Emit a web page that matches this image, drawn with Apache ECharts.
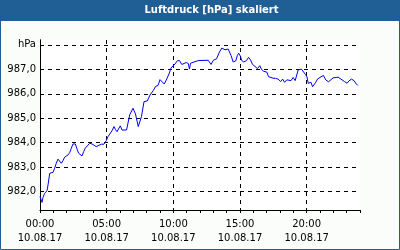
<!DOCTYPE html>
<html><head><meta charset="utf-8">
<script src="https://cdn.jsdelivr.net/npm/echarts@6/dist/echarts.min.js"></script>
<style>html,body{margin:0;padding:0;background:#fafdfa;}#c{width:400px;height:250px;}</style>
</head><body><div id="c"></div>
<script>
var title = 'Luftdruck [hPa] skaliert';
var dateLabel = '10.08.17';
var yTicks = [982, 983, 984, 985, 986, 987, 988];
var xLabelHours = [0, 5, 10, 15, 20];
var hours = [0,0.15,0.225,0.35,0.525,0.6,0.73,0.85,0.975,1.10,1.22,1.35,1.48,1.60,1.725,1.85,2.10,2.23,2.35,2.475,2.65,2.80,2.90,3.15,3.28,3.40,3.55,3.73,3.90,4.05,4.22,4.35,4.60,4.80,4.97,5.10,5.23,5.40,5.55,5.65,5.775,6.02,6.15,6.49,6.73,6.975,7.16,7.37,7.61,7.80,8.05,8.25,8.51,8.66,8.85,9.00,9.15,9.32,9.51,9.70,9.825,9.95,10.125,10.30,10.46,10.635,10.76,10.965,11.12,11.21,11.29,11.40,11.87,12.62,12.825,13.00,13.24,13.46,13.635,13.75,13.875,14.115,14.22,14.325,14.49,14.685,14.80,14.90,15.04,15.13,15.285,15.49,15.64,15.79,15.94,16.125,16.31,16.485,16.61,16.78,17.01,17.14,17.27,17.475,17.66,17.87,18.05,18.20,18.34,18.51,18.65,18.825,18.99,19.14,19.25,19.365,19.61,19.76,19.91,20.025,20.115,20.235,20.325,20.44,20.55,20.66,20.81,21.00,21.15,21.26,21.43,21.64,21.79,21.975,22.125,22.365,22.575,22.84,23.025,23.175,23.36,23.55,23.715,23.835];
var pressure = [981.80,981.56,981.77,981.93,982.04,982.27,982.75,982.82,982.79,982.96,983.16,983.33,983.30,983.16,983.27,983.41,983.50,983.60,983.78,983.95,983.95,983.71,983.57,983.46,983.64,983.78,983.84,983.98,983.95,983.91,983.84,983.91,983.94,983.94,984.09,984.25,984.32,984.49,984.66,984.55,984.45,984.69,984.52,984.52,985.14,985.41,985.18,984.66,985.07,985.68,985.71,985.95,986.14,986.30,986.34,986.58,986.59,986.40,986.61,986.85,987.06,987.12,987.22,987.35,987.36,987.20,987.18,987.28,987.24,987.01,987.25,987.27,987.36,987.37,987.20,987.37,987.43,987.71,987.87,987.90,987.80,987.83,987.88,987.57,987.30,987.35,987.57,987.66,987.53,987.36,987.30,987.36,987.49,987.39,987.20,987.12,987.03,987.15,987.00,986.92,986.89,986.70,986.63,986.64,986.63,986.60,986.50,986.60,986.47,986.57,986.62,986.54,986.67,986.54,986.50,986.98,987.01,986.94,986.79,986.69,986.43,986.38,986.47,986.29,986.23,986.45,986.60,986.67,986.63,986.75,986.57,986.49,986.51,986.65,986.68,986.68,986.60,986.50,986.43,986.53,986.60,986.54,986.41,986.34];

var data = hours.map(function(h, i){ return [h, pressure[i]]; });
var FONT = 'DejaVu Sans';
var chart = echarts.init(document.getElementById('c'), null, {renderer:'canvas'});
var dash = {color:'#000', type:[4,4], width:1};
chart.setOption({
  animation:false,
  backgroundColor:'#fafdfa',
  grid:{left:40, right:40, top:40, bottom:40, show:true, backgroundColor:'#ffffff', borderWidth:0},
  graphic:[
    {type:'rect', shape:{x:0.5,y:0.5,width:399,height:249}, style:{fill:null, stroke:'#1f5f96', lineWidth:1}, z:100},
    {type:'rect', shape:{x:0,y:0,width:400,height:21}, style:{fill:'#1f5f96'}, z:101},
    {type:'text', x:211.5, y:10.5, style:{text:title, fill:'#ffffff', font:'bold 10px "DejaVu Sans"', align:'center', verticalAlign:'middle'}, z:102}
  ],
  xAxis:[
    {type:'value', min:0, max:24, interval:1, position:'bottom',
     axisLine:{show:true, lineStyle:{color:'#000', width:1}},
     axisTick:{show:true, length:3, inside:false, lineStyle:{color:'#000'}},
     axisLabel:{show:false}, splitLine:{show:false}},
    {type:'value', min:0, max:24, interval:5, position:'bottom',
     axisLine:{show:false}, axisTick:{show:false},
     axisLabel:{show:true, margin:8, color:'#000', fontFamily:FONT, fontSize:10, lineHeight:13.5,
       showMaxLabel:false,
       formatter:function(v){ if (xLabelHours.indexOf(v) < 0) return ''; var hh = (v<10?'0':'')+v; return hh+':00\n'+dateLabel; }},
     splitLine:{show:true, showMinLine:false, showMaxLine:false, lineStyle:dash}}
  ],
  yAxis:[
    {type:'value', min:981.25, max:988.2, position:'left',
     axisLine:{show:true, lineStyle:{color:'#000', width:1}},
     axisTick:{show:false, customValues:yTicks},
     axisLabel:{show:true, margin:4, color:'#000', fontFamily:FONT, fontSize:10, customValues:yTicks,
       formatter:function(v){ if (Math.abs(v-988)<1e-6) return 'hPa'; return v.toFixed(1).replace('.', ','); }},
     splitLine:{show:true, lineStyle:dash}},
    {type:'value', min:981.25, max:988.2, position:'right',
     axisLine:{show:true, lineStyle:{color:'#000', width:1}},
     axisTick:{show:false}, axisLabel:{show:false}, splitLine:{show:false}}
  ],
  series:[{type:'line', xAxisIndex:0, yAxisIndex:0, data:data, showSymbol:false, symbol:'none',
    lineStyle:{color:'#0000ee', width:1}, z:5}]
});
</script></body></html>
